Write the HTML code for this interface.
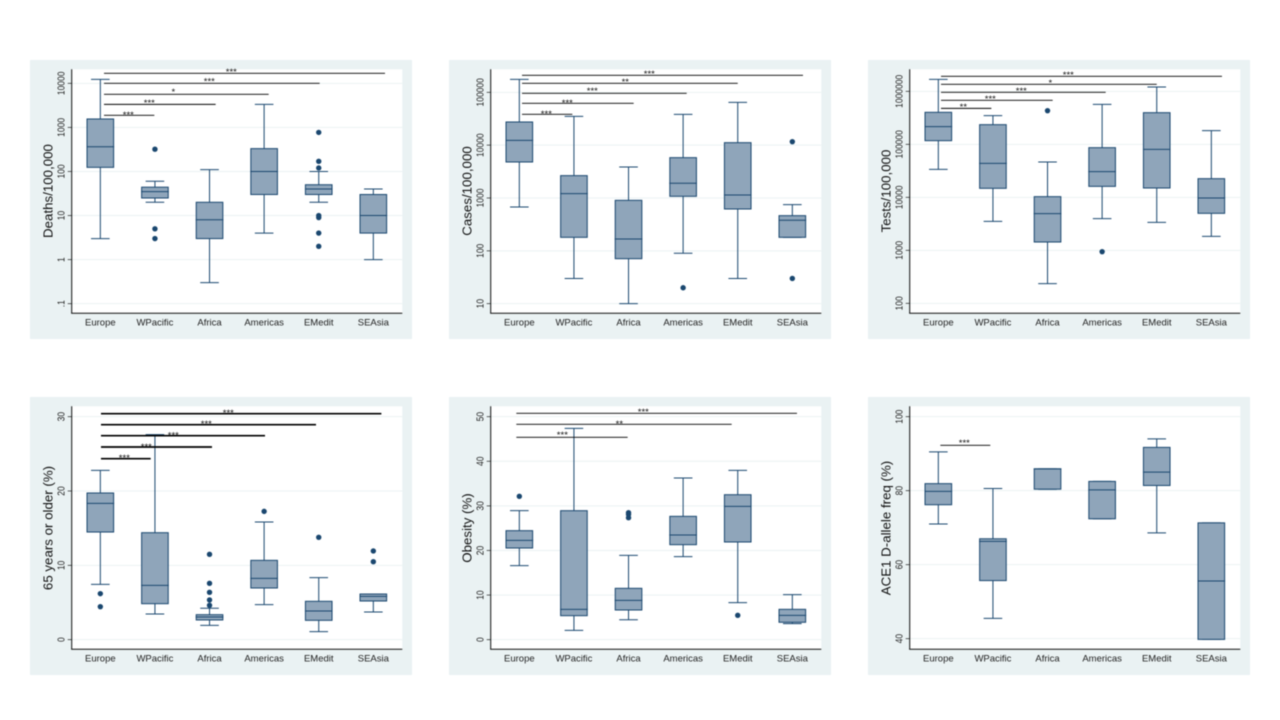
<!DOCTYPE html>
<html lang="en">
<head>
<meta charset="utf-8">
<title>Regional box plots of COVID-19 outcomes and risk factors</title>
<style>
html,body{margin:0;padding:0;background:#fff;width:1280px;height:720px;overflow:hidden}
svg{display:block;font-family:"Liberation Sans",sans-serif;filter:blur(0.4px)}
</style>
</head>
<body>
<svg id="figure" width="1280" height="720" viewBox="0 0 1280 720" xmlns="http://www.w3.org/2000/svg"></svg>
<script>
const categories = ['Europe','WPacific','Africa','Americas','EMedit','SEAsia'];

const deathsLow = [3,20,0.3,4,20,1];
const deathsQ1 = [124,25,3,30,30,4];
const deathsMedian = [365,35,8,100,40,10];
const deathsQ3 = [1552,44,20,330,50,30];
const deathsHigh = [12300,60,110,3340,100,40];
const deathsOutliers = [[],[320,5,3],[],[],[770,170,120,10,9,4,2],[]];
const deathsTicks = [10000,1000,100,10,1,0.1];
const deathsTickLabels = ['10000','1000','100','10','1','.1'];
const deathsSigEnd = [1.989,3.112,4.083,5.017,6.214];
const deathsSigLevel = [1880,3330,5625,10000,16900];
const deathsSigText = ['***','***','*','***','***'];
const deathsSigTextX = [1.513,1.897,2.337,2.996,3.399];
const deathsSigTextLevel = [2084,3840,6818,11900,19400];

const casesLow = [676,30,10,90,30,180];
const casesQ1 = [4800,180,71,1076,619,180];
const casesMedian = [12340,1208,167,1896,1140,378];
const casesQ3 = [27450,2650,903,5800,11150,463];
const casesHigh = [176000,35150,3860,38300,64700,748];
const casesOutliers = [[],[],[],[20],[],[11640,30]];
const casesTicks = [100000,10000,1000,100,10];
const casesTickLabels = ['100000','10000','1000','100','10'];
const casesSigEnd = [1.971,3.094,4.065,5.0,6.195];
const casesSigLevel = [38400,61900,95700,148000,210000];
const casesSigText = ['***','***','***','**','***'];
const casesSigTextX = [1.495,1.879,2.337,2.941,3.381];
const casesSigTextLevel = [41200,66500,114000,166000,235000];

const testsLow = [33700,3525,235,3956,3373,1837];
const testsQ1 = [117200,14790,1435,16100,15000,4990];
const testsMedian = [215500,43830,4920,30500,80500,9710];
const testsQ3 = [401700,235000,10300,86500,395500,22500];
const testsHigh = [1684000,347500,46400,568000,1207000,181000];
const testsOutliers = [[],[],[431700],[944],[],[]];
const testsTicks = [1000000,100000,10000,1000,100];
const testsTickLabels = ['1000000','100000','10000','1000','100'];
const testsSigEnd = [1.971,3.094,4.065,5.0,6.195];
const testsSigLevel = [477000,676000,957000,1355000,1919000];
const testsSigText = ['**','***','***','*','***'];
const testsSigTextX = [1.458,1.952,2.52,3.051,3.381];
const testsSigTextLevel = [537000,759000,1075000,1522000,2153000];

const elderlyLow = [7.44,3.45,1.93,4.71,1.08,3.72];
const elderlyQ1 = [14.48,4.84,2.65,6.95,2.6,5.2];
const elderlyMedian = [18.34,7.31,3.05,8.25,3.86,5.83];
const elderlyQ3 = [19.73,14.39,3.36,10.67,5.16,6.14];
const elderlyHigh = [22.78,27.58,4.22,15.83,8.34,6.14];
const elderlyOutliers = [[6.19,4.44],[],[11.48,7.58,6.37,5.34,4.62],[17.26],[13.77],[11.93,10.49]];
const elderlyTicks = [30,20,10,0];
const elderlyTickLabels = ['30','20','10','0'];
const elderlySigEnd = [1.922,3.045,4.016,4.95,6.147];
const elderlySigLevel = [24.35,25.92,27.44,28.92,30.4];
const elderlySigText = ['***','***','***','***','***'];
const elderlySigTextX = [1.44,1.842,2.337,2.941,3.344];
const elderlySigTextLevel = [24.62,26.14,27.67,29.19,30.67];

const obesityLow = [16.6,2.09,4.48,18.61,8.3,3.6];
const obesityQ1 = [20.55,5.38,6.65,21.3,21.9,3.9];
const obesityMedian = [22.27,6.8,8.82,23.47,29.9,5.46];
const obesityQ3 = [24.44,28.92,11.51,27.65,32.5,6.8];
const obesityHigh = [28.92,47.38,18.91,36.25,37.97,10.09];
const obesityOutliers = [[32.14],[],[28.48,28.1,27.35],[],[5.46],[]];
const obesityTicks = [50,40,30,20,10,0];
const obesityTickLabels = ['50','40','30','20','10','0'];
const obesitySigEnd = [2.984,4.889,6.085];
const obesitySigLevel = [45.37,48.28,50.75];
const obesitySigText = ['***','**','***'];
const obesitySigTextX = [1.788,2.832,3.271];
const obesitySigTextLevel = [46.19,48.65,51.35];

const aceLow = [71,45.5,80.4,72.4,68.6,39.8];
const aceQ1 = [76.2,55.7,80.4,72.4,81.4,39.8];
const aceMedian = [79.8,66.3,85.9,80.2,85,55.6];
const aceQ3 = [81.9,67,85.9,82.5,91.7,71.3];
const aceHigh = [90.5,80.6,85.9,82.5,94,71.3];
const aceOutliers = [[],[],[],[],[],[]];
const aceTicks = [100,80,60,40];
const aceTickLabels = ['100','80','60','40'];
const aceSigEnd = [1.952];
const aceSigLevel = [92.25];
const aceSigText = ['***'];
const aceSigTextX = [1.476];
const aceSigTextLevel = [93.24];

const NAVY = '#1a476f';
const FILL = '#8fa5ba';
const PANEL_BG = '#eaf2f3';
const NS = 'http://www.w3.org/2000/svg';
const root = document.getElementById('figure');

function make(tag, attrs, parent) {
  const node = document.createElementNS(NS, tag);
  for (const key in attrs) node.setAttribute(key, attrs[key]);
  parent.appendChild(node);
  return node;
}

function drawPanel(o) {
  const g = make('g', {transform: 'translate(' + o.x + ',' + o.y + ')'}, root);
  
  

  const plotLeft = 41.7, plotRight = 372.3, plotTop = 9.3, plotBottom = o.bottom;
  const xOf = c => 70.33 + (c - 1) * 54.6;
  const yOf = o.log
    ? v => o.refPx + (Math.log10(o.refValue) - Math.log10(v)) * o.pxPerUnit
    : v => o.refPx + (o.refValue - v) * o.pxPerUnit;

  const bg = make('rect', {x: 0, y: 0, width: 382, height: o.height, fill: PANEL_BG}, g);
  
  

  const plot = make('rect', {x: plotLeft, y: plotTop, width: plotRight - plotLeft, height: plotBottom - plotTop, fill: '#fff'}, g);
  
  

  o.ticks.forEach((t, i) => {
    const py = yOf(t);
    const grid = make('line', {x1: plotLeft, x2: plotRight, y1: py, y2: py, stroke: PANEL_BG, 'stroke-width': 1}, g);
    
    
    const tick = make('line', {x1: plotLeft - 4, x2: plotLeft, y1: py, y2: py, stroke: '#222', 'stroke-width': 0.7}, g);
    
    
    const label = make('text', {x: 0, y: 0, 'font-size': 8.5, fill: '#222', 'text-anchor': 'middle', transform: 'translate(34.4 ' + py + ') rotate(-90) scale(1 1.22)'}, g);
    
    
    label.textContent = o.tickLabels[i];
  });

  const yAxis = make('line', {x1: plotLeft, x2: plotLeft, y1: plotTop, y2: plotBottom, stroke: '#111', 'stroke-width': 1}, g);
  
  
  const xAxis = make('line', {x1: plotLeft - 0.5, x2: plotRight, y1: plotBottom, y2: plotBottom, stroke: '#111', 'stroke-width': 1}, g);
  
  

  const title = make('text', {x: 22.5, y: 131, 'font-size': 13.3, fill: '#111', 'text-anchor': 'middle', transform: 'rotate(-90 22.5 131)'}, g);
  
  
  title.textContent = o.title;

  categories.forEach((name, i) => {
    const cx = xOf(i + 1);
    const group = make('g', {}, g);
    
    

    const upper = make('line', {x1: cx, x2: cx, y1: yOf(o.q3[i]), y2: yOf(o.high[i]), stroke: NAVY, 'stroke-width': 1}, group);
    
    
    const lower = make('line', {x1: cx, x2: cx, y1: yOf(o.q1[i]), y2: yOf(o.low[i]), stroke: NAVY, 'stroke-width': 1}, group);
    
    
    const capHigh = make('line', {x1: cx - 9.3, x2: cx + 9.3, y1: yOf(o.high[i]), y2: yOf(o.high[i]), stroke: NAVY, 'stroke-width': 1}, group);
    
    
    const capLow = make('line', {x1: cx - 9.3, x2: cx + 9.3, y1: yOf(o.low[i]), y2: yOf(o.low[i]), stroke: NAVY, 'stroke-width': 1}, group);
    
    

    const box = make('rect', {x: cx - 13.3, width: 26.6, y: yOf(o.q3[i]), height: yOf(o.q1[i]) - yOf(o.q3[i]), fill: FILL, stroke: NAVY, 'stroke-width': 1}, group);
    
    
    const med = make('line', {x1: cx - 13.8, x2: cx + 13.8, y1: yOf(o.median[i]), y2: yOf(o.median[i]), stroke: NAVY, 'stroke-width': 1}, group);
    
    

    o.outliers[i].forEach(v => {
      const dot = make('circle', {cx: cx, cy: yOf(v), r: 2.7, fill: NAVY}, group);
      
      
    });

    const xLabel = make('text', {x: cx, y: o.xLabelY, 'font-size': 9.5, fill: '#222', 'text-anchor': 'middle'}, g);
    
    
    xLabel.textContent = name;
  });

  o.sigEnd.forEach((end, i) => {
    const bar = make('line', {x1: xOf(o.sigStart), x2: xOf(end), y1: yOf(o.sigLevel[i]), y2: yOf(o.sigLevel[i]), stroke: '#000', 'stroke-width': o.sigWidth}, g);
    
    
    const stars = make('text', {x: xOf(o.sigTextX[i]), y: yOf(o.sigTextLevel[i]) + 4.5, 'font-size': 9.5, fill: '#111', 'text-anchor': 'middle'}, g);
    
    
    stars.textContent = o.sigText[i];
  });
}

drawPanel({slug:'deaths', title:'Deaths/100,000', x:30, y:60, height:279, bottom:253.3, xLabelY:265.3, log:true, refValue:10000, refPx:23.33, pxPerUnit:44.07,
  low:deathsLow, q1:deathsQ1, median:deathsMedian, q3:deathsQ3, high:deathsHigh, outliers:deathsOutliers, ticks:deathsTicks, tickLabels:deathsTickLabels,
  sigStart:1.067, sigEnd:deathsSigEnd, sigLevel:deathsSigLevel, sigText:deathsSigText, sigTextX:deathsSigTextX, sigTextLevel:deathsSigTextLevel, sigWidth:0.9});

drawPanel({slug:'cases', title:'Cases/100,000', x:449, y:60, height:279, bottom:253.3, xLabelY:265.3, log:true, refValue:100000, refPx:32.33, pxPerUnit:52.83,
  low:casesLow, q1:casesQ1, median:casesMedian, q3:casesQ3, high:casesHigh, outliers:casesOutliers, ticks:casesTicks, tickLabels:casesTickLabels,
  sigStart:1.049, sigEnd:casesSigEnd, sigLevel:casesSigLevel, sigText:casesSigText, sigTextX:casesSigTextX, sigTextLevel:casesSigTextLevel, sigWidth:0.9});

drawPanel({slug:'tests', title:'Tests/100,000', x:868, y:60, height:279, bottom:253.3, xLabelY:265.3, log:true, refValue:1000000, refPx:31.33, pxPerUnit:53,
  low:testsLow, q1:testsQ1, median:testsMedian, q3:testsQ3, high:testsHigh, outliers:testsOutliers, ticks:testsTicks, tickLabels:testsTickLabels,
  sigStart:1.049, sigEnd:testsSigEnd, sigLevel:testsSigLevel, sigText:testsSigText, sigTextX:testsSigTextX, sigTextLevel:testsSigTextLevel, sigWidth:0.9});

drawPanel({slug:'elderly', title:'65 years or older (%)', x:30, y:397, height:278, bottom:252.3, xLabelY:264.3, log:false, refValue:30, refPx:19.67, pxPerUnit:7.433,
  low:elderlyLow, q1:elderlyQ1, median:elderlyMedian, q3:elderlyQ3, high:elderlyHigh, outliers:elderlyOutliers, ticks:elderlyTicks, tickLabels:elderlyTickLabels,
  sigStart:1.012, sigEnd:elderlySigEnd, sigLevel:elderlySigLevel, sigText:elderlySigText, sigTextX:elderlySigTextX, sigTextLevel:elderlySigTextLevel, sigWidth:1.7});

drawPanel({slug:'obesity', title:'Obesity (%)', x:449, y:397, height:278, bottom:252.3, xLabelY:264.3, log:false, refValue:50, refPx:19.67, pxPerUnit:4.46,
  low:obesityLow, q1:obesityQ1, median:obesityMedian, q3:obesityQ3, high:obesityHigh, outliers:obesityOutliers, ticks:obesityTicks, tickLabels:obesityTickLabels,
  sigStart:0.945, sigEnd:obesitySigEnd, sigLevel:obesitySigLevel, sigText:obesitySigText, sigTextX:obesitySigTextX, sigTextLevel:obesitySigTextLevel, sigWidth:0.9});

drawPanel({slug:'ace1', title:'ACE1 D-allele freq (%)', x:868, y:397, height:278, bottom:252.3, xLabelY:264.3, log:false, refValue:100, refPx:19.67, pxPerUnit:3.7,
  low:aceLow, q1:aceQ1, median:aceMedian, q3:aceQ3, high:aceHigh, outliers:aceOutliers, ticks:aceTicks, tickLabels:aceTickLabels,
  sigStart:1.037, sigEnd:aceSigEnd, sigLevel:aceSigLevel, sigText:aceSigText, sigTextX:aceSigTextX, sigTextLevel:aceSigTextLevel, sigWidth:0.9});
</script>
</body>
</html>
